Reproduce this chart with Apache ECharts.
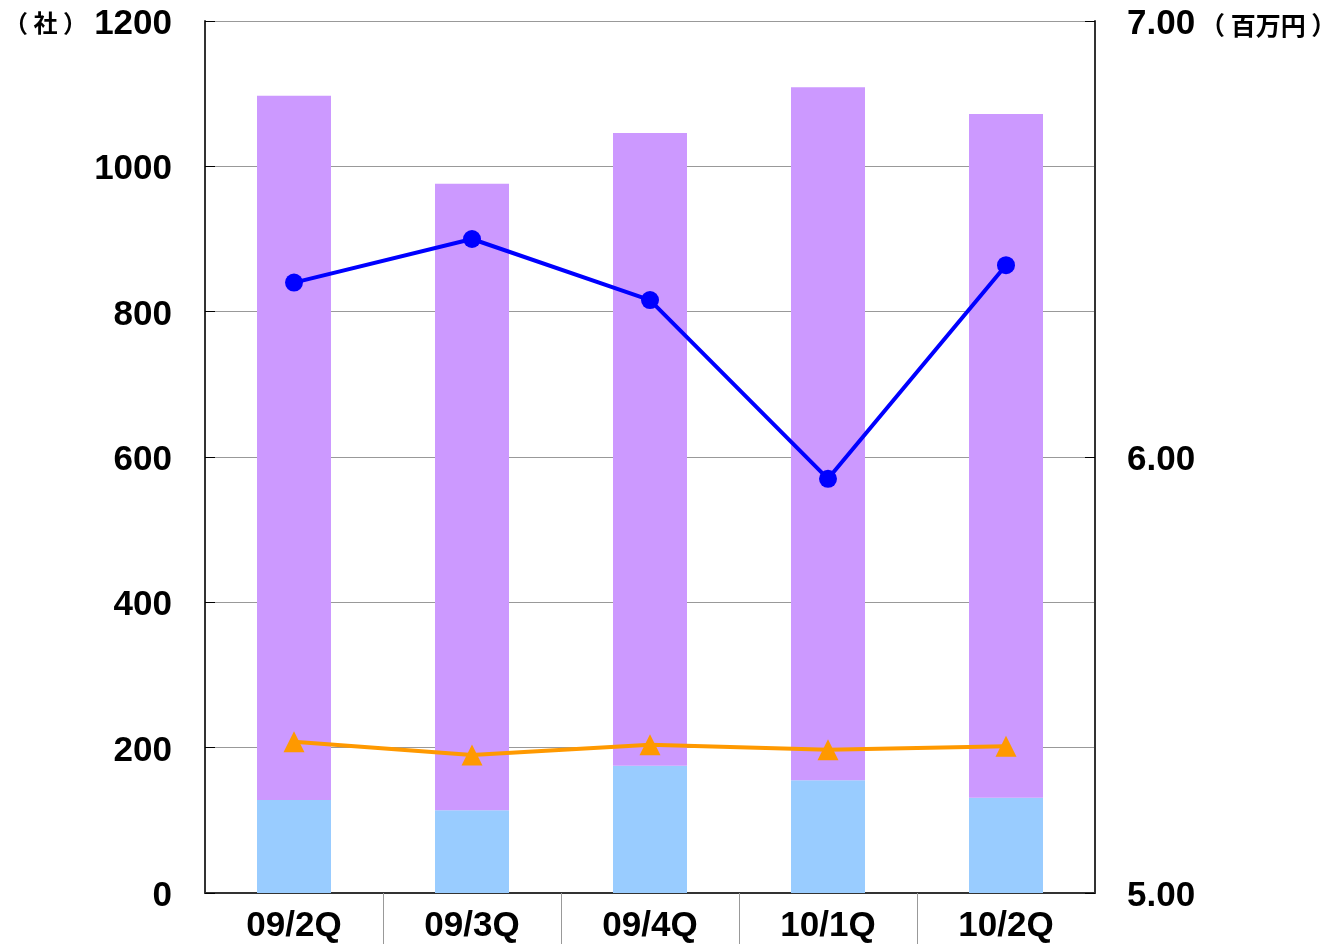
<!DOCTYPE html>
<html><head><meta charset="utf-8">
<script src="https://cdn.jsdelivr.net/npm/echarts@6/dist/echarts.min.js"></script>
<style>html,body{margin:0;padding:0;background:#fff}#c{width:1334px;height:944px}</style>
</head><body><div id="c"></div>
<script>
const categories = ['09/2Q','09/3Q','09/4Q','10/1Q','10/2Q'];
const lowerBar = [128, 114, 175, 155, 131];
const upperBar = [969, 862, 871, 954, 941];
const orangeLine = [208, 190, 204, 197, 202];
const blueLine = [6.40, 6.50, 6.36, 5.95, 6.44];
const leftTicks = [0, 1200, 200];
const rightTicks = [5, 7, 1];
const separatorPositions = [1, 2, 3, 4];

const font = '"Liberation Sans", Arial, sans-serif';
const cjk = '"Noto Sans CJK JP", sans-serif';
const labelRich = {a: {fontSize: 35, fontWeight: 'bold', color: '#000', fontFamily: font, padding: [7, 0, 0, 0]}};
const chart = echarts.init(document.getElementById('c'));
chart.setOption({
  animation: false,
  backgroundColor: '#fff',
  grid: {left: 205, right: 239, top: 21, bottom: 51},
  xAxis: [{
    type: 'category', data: categories, boundaryGap: true,
    axisLine: {lineStyle: {color: '#333', width: 2}},
    axisTick: {show: false},
    axisLabel: {fontSize: 35, fontWeight: 'bold', color: '#000', fontFamily: font, margin: 16}
  }, {
    type: 'value', position: 'bottom', min: 0, max: categories.length, interval: 1,
    axisLine: {show: false},
    axisLabel: {show: false},
    splitLine: {show: false},
    axisTick: {show: true, length: 51, customValues: separatorPositions, lineStyle: {color: '#999', width: 1}}
  }],
  yAxis: [{
    type: 'value', min: leftTicks[0], max: leftTicks[1], interval: leftTicks[2],
    axisLine: {show: true, lineStyle: {color: '#333', width: 2}},
    axisTick: {show: true, inside: true, length: 10, lineStyle: {color: '#000'}},
    splitLine: {lineStyle: {color: '#999', width: 1}},
    axisLabel: {margin: 33, rich: labelRich, formatter: v => '{a|' + v + '}'}
  }, {
    type: 'value', min: rightTicks[0], max: rightTicks[1], interval: rightTicks[2],
    axisLine: {show: true, lineStyle: {color: '#333', width: 2}},
    axisTick: {show: true, inside: true, length: 10, lineStyle: {color: '#000'}},
    splitLine: {show: false},
    axisLabel: {margin: 32, rich: labelRich, formatter: v => '{a|' + v.toFixed(2) + '}'}
  }],
  series: [
    {type: 'bar', stack: 'a', data: lowerBar, barWidth: 74, itemStyle: {color: '#99CCFF'}},
    {type: 'bar', stack: 'a', data: upperBar, barWidth: 74, itemStyle: {color: '#CC99FF'}},
    {type: 'line', data: orangeLine, yAxisIndex: 0, symbol: 'triangle', symbolSize: 21,
      lineStyle: {color: '#FF9900', width: 4}, itemStyle: {color: '#FF9900'}},
    {type: 'line', data: blueLine, yAxisIndex: 1, symbol: 'circle', symbolSize: 18,
      lineStyle: {color: '#0000FF', width: 4}, itemStyle: {color: '#0000FF'}}
  ],
  graphic: [
    {type: 'text', left: 4, top: 11, style: {text: '（ 社 ）', fontSize: 24, fontWeight: 'bold', fontFamily: cjk, fill: '#000'}},
    {type: 'text', left: 1200, top: 13, style: {text: '（ 百万円 ）', fontSize: 25, fontWeight: 'bold', fontFamily: cjk, fill: '#000'}}
  ]
});
</script></body></html>
